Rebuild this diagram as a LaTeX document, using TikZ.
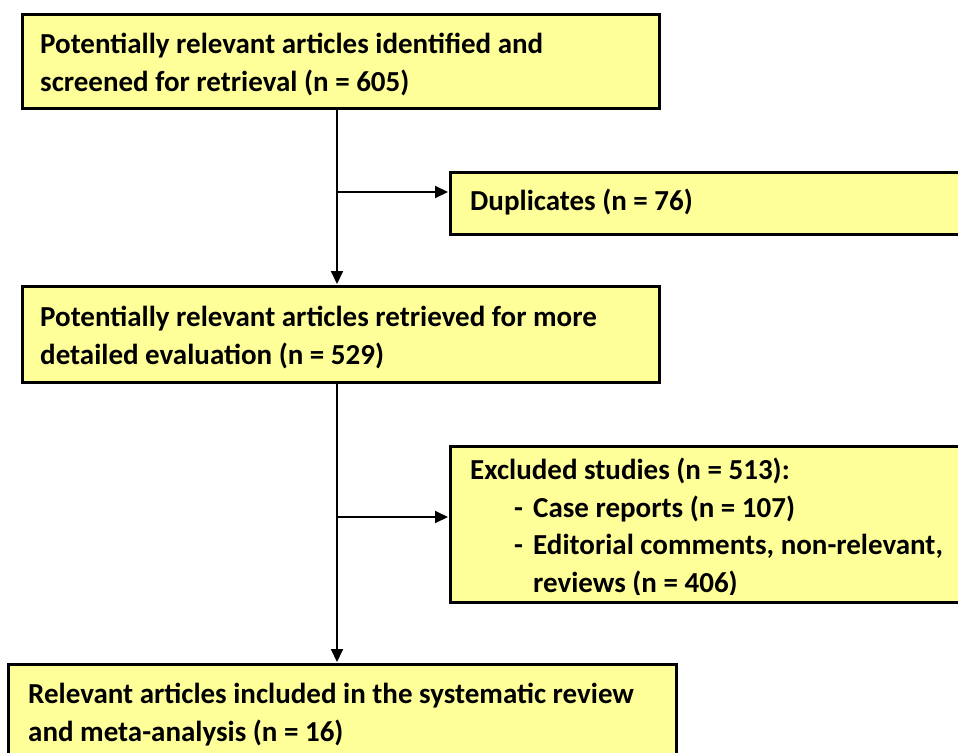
\documentclass[tikz,border=0pt]{standalone}
\usepackage{fontspec}
\setmainfont{Carlito}
\usetikzlibrary{arrows.meta}
\definecolor{boxfill}{HTML}{FFFF99}
\begin{document}
\begin{tikzpicture}[x=1pt,y=-1pt,
  box/.style={draw=black, line width=2.6pt, fill=boxfill, inner sep=0pt, anchor=north west},
  txt/.style={anchor=base west, inner sep=0pt, font=\bfseries\fontsize{29}{34}\selectfont},
  conn/.style={line width=2pt, -{Triangle[length=13pt,width=12pt]}, shorten >=1pt}]
\useasboundingbox (0,0) rectangle (958,752);
\clip (0,0) rectangle (958,752);
% boxes
\node[box, minimum width=637pt, minimum height=94pt] (b1) at (21,13) {};
\node[box, minimum width=540pt, minimum height=62pt] (dup) at (449,171) {};
\node[box, minimum width=637pt, minimum height=96pt] (b2) at (21,285) {};
\node[box, minimum width=540pt, minimum height=156pt] (exc) at (449,445) {};
\node[box, minimum width=668pt, minimum height=120pt] (b3) at (7,663) {};
% texts
\node[txt] (t1a) at (40,54) {Potentially relevant articles identified and};
\node[txt] (t1b) at (40,92) {screened for retrieval (n = 605)};
\node[txt] (tdup) at (470,210) {Duplicates (n = 76)};
\node[txt] (t2a) at (40,326) {Potentially relevant articles retrieved for more};
\node[txt] (t2b) at (40,364) {detailed evaluation (n = 529)};
\begin{scope}
\clip (451,447) rectangle (958,594);
\node[txt] (te1) at (470,479) {Excluded studies (n = 513):};
\node[txt] (td1) at (514,517) {-};
\node[txt] (te2) at (533,517) {Case reports (n = 107)};
\node[txt] (td2) at (514,554) {-};
\node[txt] (te3) at (533,554) {Editorial comments, non-relevant,};
\node[txt] (te4) at (533,592) {reviews (n = 406)};
\end{scope}
\node[txt] (t3a) at (28,703) {Relevant articles included in the systematic review};
\node[txt] (t3b) at (28,741) {and meta-analysis (n = 16)};
% connectors
\coordinate (j1) at (337,192);
\coordinate (j2) at (337,517);
\draw[conn] (b1.south -| j1) -- (b2.north -| j1);
\draw[conn] (j1) -- (j1 -| dup.west);
\draw[conn] (b2.south -| j2) -- (b3.north -| j2);
\draw[conn] (j2) -- (j2 -| exc.west);
\end{tikzpicture}
\end{document}
